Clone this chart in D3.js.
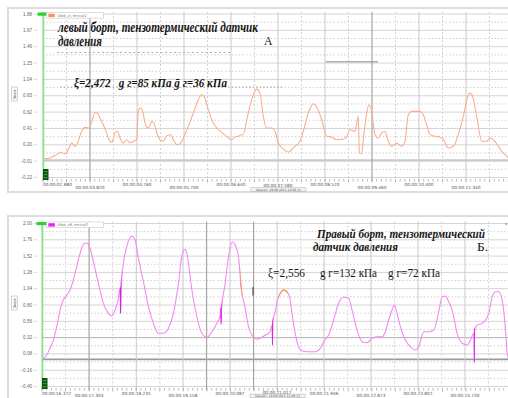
<!DOCTYPE html>
<html>
<head>
<meta charset="utf-8">
<script src="https://cdn.jsdelivr.net/npm/d3@7"></script>
<style>
  body { margin: 0; background: #fff; }
  svg { display: block; }
</style>
</head>
<body>
<svg id="chart" width="508" height="398"></svg>
<script>
// ---------- Left side (А): pressure sensor record ----------
const leftTimes = [2.880, 3.020, 3.154, 3.240, 3.320, 3.386, 3.454, 3.520, 3.566, 3.654, 3.720, 3.806, 3.854, 3.920, 3.966,
  4.020, 4.086, 4.140, 4.186, 4.254, 4.320, 4.366, 4.420, 4.486, 4.554, 4.620, 4.686, 4.754, 4.786, 4.820, 4.874, 4.920, 4.986,
  5.054, 5.100, 5.154, 5.220, 5.286, 5.354, 5.434, 5.486, 5.554, 5.620, 5.686, 5.786, 5.874, 5.986, 6.054, 6.100, 6.166, 6.254,
  6.354, 6.454, 6.554, 6.654, 6.720, 6.786, 6.854, 6.886, 6.954, 7.054, 7.154, 7.220, 7.286, 7.354, 7.454, 7.520, 7.586, 7.686,
  7.786, 7.886, 8.020, 8.086, 8.186, 8.286, 8.354, 8.454, 8.554, 8.654, 8.754, 8.886, 8.954, 9.020, 9.120, 9.186, 9.206, 9.254,
  9.286, 9.354, 9.400, 9.454, 9.520, 9.586, 9.654, 9.720, 9.786, 9.854, 9.954, 10.054, 10.120, 10.186, 10.254, 10.420, 10.486,
  10.554, 10.620, 10.720, 10.820, 10.886, 10.986, 11.086, 11.186, 11.286, 11.386, 11.420, 11.474, 11.554, 11.654, 11.754, 11.820,
  11.920, 11.986, 12.054, 12.154, 12.220];
const leftValues = [0.019, 0.032, 0.074, 0.104, 0.083, 0.138, 0.224, 0.181, 0.215, 0.373, 0.424, 0.416, 0.501, 0.616, 0.608,
  0.544, 0.458, 0.373, 0.288, 0.232, 0.352, 0.373, 0.288, 0.224, 0.266, 0.224, 0.245, 0.266, 0.629, 0.672, 0.629, 0.480, 0.416,
  0.501, 0.480, 0.352, 0.266, 0.245, 0.318, 0.330, 0.266, 0.202, 0.215, 0.288, 0.437, 0.586, 0.778, 0.843, 0.821, 0.693, 0.522,
  0.416, 0.360, 0.309, 0.266, 0.301, 0.309, 0.330, 0.330, 0.522, 0.778, 0.915, 0.864, 0.565, 0.416, 0.416, 0.373, 0.224, 0.147,
  0.104, 0.160, 0.245, 0.373, 0.608, 0.727, 0.685, 0.522, 0.309, 0.301, 0.266, 0.275, 0.301, 0.394, 0.373, 0.565, 0.096, 0.087,
  0.266, 0.608, 0.714, 0.629, 0.330, 0.288, 0.352, 0.373, 0.245, 0.181, 0.224, 0.181, 0.245, 0.586, 0.629, 0.629, 0.586,
  0.458, 0.330, 0.309, 0.301, 0.266, 0.160, 0.181, 0.330, 0.565, 0.843, 0.864, 0.821, 0.565, 0.245, 0.245, 0.288,
  0.245, 0.181, 0.117, 0.052, 0.010];
const leftTicksY = [1.88, 1.67, 1.46, 1.25, 1.04, 0.83, 0.62, 0.41, 0.20, -0.01, -0.22];
const leftTicksX = [2.880, 3.820, 4.760, 5.700, 6.640, 7.580, 8.520, 9.460, 10.400, 11.340];

// ---------- Right side (Б): pressure sensor record ----------
const rightTimes = [16.372, 16.465, 16.530, 16.596, 16.663, 16.728, 16.793, 16.861, 16.926, 16.991, 17.090, 17.157, 17.222,
  17.268, 17.321, 17.387, 17.486, 17.585, 17.683, 17.751, 17.816, 17.881, 17.915, 17.925, 17.935, 17.980, 18.047, 18.146,
  18.212, 18.277, 18.376, 18.475, 18.574, 18.672, 18.771, 18.870, 18.969, 19.068, 19.135, 19.187, 19.234, 19.333, 19.432,
  19.531, 19.630, 19.729, 19.828, 19.893, 19.903, 19.911, 19.919, 19.992, 20.057, 20.136, 20.189, 20.255, 20.302, 20.387,
  20.453, 20.540, 20.619, 20.684, 20.783, 20.882, 20.915, 20.925, 20.935, 20.981, 21.026, 21.080, 21.147, 21.213, 21.264,
  21.311, 21.376, 21.442, 21.509, 21.608, 21.772, 21.871, 21.936, 22.035, 22.134, 22.233, 22.332, 22.431, 22.498, 22.597,
  22.696, 22.795, 22.893, 22.992, 23.091, 23.156, 23.222, 23.289, 23.334, 23.388, 23.453, 23.552, 23.651, 23.750, 23.815,
  23.914, 24.013, 24.112, 24.211, 24.278, 24.343, 24.409, 24.476, 24.575, 24.674, 24.773, 24.838, 24.903, 24.912, 24.921,
  24.971, 25.070, 25.200, 25.267, 25.333, 25.398, 25.465, 25.530, 25.564, 25.630];
const rightValues = [0.000, 0.063, 0.162, 0.284, 0.480, 0.726, 0.873, 0.947, 1.021, 1.168, 1.463, 1.635, 1.708,
  1.708, 1.635, 1.437, 1.119, 0.825, 0.677, 0.638, 0.726, 0.898, 1.050, 0.680, 1.020, 1.414, 1.658, 1.816,
  1.757, 1.487, 1.143, 0.775, 0.530, 0.383, 0.383, 0.457, 0.677, 1.119, 1.511, 1.620, 1.561, 1.021, 0.627,
  0.383, 0.324, 0.406, 0.530, 0.652, 0.756, 0.520, 0.710, 1.119, 1.511, 1.732, 1.683, 1.511, 1.094, 0.751,
  0.480, 0.333, 0.295, 0.309, 0.358, 0.406, 0.505, 0.211, 0.550, 0.701, 0.873, 0.972, 1.021, 0.996, 0.922,
  0.677, 0.383, 0.186, 0.127, 0.112, 0.112, 0.162, 0.259, 0.358, 0.579, 0.825, 0.913, 0.898, 0.726, 0.432,
  0.259, 0.244, 0.309, 0.333, 0.333, 0.406, 0.579, 0.726, 0.800, 0.677, 0.480, 0.284, 0.186, 0.137, 0.186,
  0.406, 0.406, 0.432, 0.701, 0.922, 0.932, 0.848, 0.726, 0.383, 0.236, 0.211, 0.284, 0.383, -0.040, 0.430,
  0.505, 0.530, 0.677, 0.922, 0.996, 0.996, 0.873, 0.432, 0.088, -0.080];
const rightTicksY = [2.00, 1.76, 1.52, 1.28, 1.04, 0.80, 0.56, 0.32, 0.08, -0.16, -0.40];
const rightTicksX = [16.372, 17.303, 18.235, 19.158, 20.087, 21.017, 21.946, 22.873, 23.802, 24.730];

// stretches of the right record drawn in the "selected" colour, and impulse spikes
const rightSelected = [[20.290, 20.325], [21.050, 21.230]];
const rightSpikes = [[17.910, 17.940], [19.898, 19.922], [20.918, 20.938], [24.905, 24.925]];

const svg = d3.select('#chart');
const fmtTime = s => {
  const m = Math.floor(s / 60), sec = s - m * 60;
  return '00:' + String(m).padStart(2, '0') + ':' + sec.toFixed(3).padStart(6, '0');
};

function drawPanel(o) {
  const g = svg.append('g');
  const x = d3.scaleLinear().domain([o.ticksX[0], o.ticksX[9]]).range([o.left, o.left + 423]);
  const y = d3.scaleLinear().domain([o.ticksY[o.ticksY.length - 1], o.ticksY[0]]).range([o.labelBottom, o.labelTop]);
  const right = 530;
  const dT = o.ticksX[1] - o.ticksX[0];
  // gridline times: labelled ticks plus one more step past the visible edge
  const gridT = o.ticksX.concat([o.ticksX[9] + dT]);

  // panel frame
  g.append('rect').attr('x', 8).attr('y', o.frameTop).attr('width', 540).attr('height', o.frameH)
    .attr('fill', '#fff').attr('stroke', '#dddddd').attr('stroke-width', 2);

  // horizontal grid: solid at labelled values, dotted half-way
  const step = o.ticksY[0] - o.ticksY[1];
  o.ticksY.forEach((v, i) => {
    g.append('line').attr('x1', o.left).attr('x2', right).attr('y1', y(v)).attr('y2', y(v))
      .attr('stroke', '#d4d4d4').attr('stroke-width', 1);
    if (i < o.ticksY.length - 1) {
      g.append('line').attr('x1', o.left).attr('x2', right).attr('y1', y(v - step / 2)).attr('y2', y(v - step / 2))
        .attr('stroke', '#cfcfcf').attr('stroke-width', 1).attr('stroke-dasharray', '1.5,2');
    }
  });
  o.extraH.forEach(h => {
    g.append('line').attr('x1', o.left).attr('x2', right).attr('y1', y(h.v)).attr('y2', y(h.v))
      .attr('stroke', h.c).attr('stroke-width', h.w);
  });

  // vertical grid: solid at labelled times, dashed half-way
  gridT.forEach((t, i) => {
    const dark = o.darkMajor.includes(i);
    g.append('line').attr('x1', x(t)).attr('x2', x(t)).attr('y1', o.plotTop).attr('y2', o.plotBottom)
      .attr('stroke', dark ? '#a4a4a4' : '#c8c8c8').attr('stroke-width', dark ? 1.2 : 1);
    const tm = t + dT / 2;
    const dm = o.darkMinor.includes(i);
    g.append('line').attr('x1', x(tm)).attr('x2', x(tm)).attr('y1', o.plotTop).attr('y2', o.plotBottom)
      .attr('stroke', dm ? '#a4a4a4' : '#d2d2d2').attr('stroke-width', dm ? 1.2 : 1)
      .attr('stroke-dasharray', dm ? null : '2,2');
  });

  // minor ticks along the time axis
  const tStep = dT / 10;
  d3.range(0, 110).forEach(i => {
    const t = o.ticksX[0] + i * tStep;
    g.append('line').attr('x1', x(t)).attr('x2', x(t)).attr('y1', o.plotBottom - 2).attr('y2', o.plotBottom + (i % 5 === 0 ? 1.5 : 0.5))
      .attr('stroke', '#9a9a9a').attr('stroke-width', 0.7);
  });

  // value labels
  o.ticksY.forEach(v => {
    g.append('text').attr('x', 32).attr('y', y(v) + 1.5).attr('text-anchor', 'end')
      .attr('font-family', 'Liberation Sans, Arial, sans-serif').attr('font-size', 4.6).attr('fill', '#666')
      .text(o.fmtY(v));
    g.append('line').attr('x1', 34).attr('x2', 37).attr('y1', y(v)).attr('y2', y(v)).attr('stroke', '#bbb').attr('stroke-width', 0.6);
  });

  // time labels, two staggered rows
  o.ticksX.forEach((t, i) => {
    const row = i % 2;
    g.append('text').attr('x', x(t)).attr('y', o.plotBottom + (i === 5 ? o.lift : (row ? o.row2 : 5)))
      .attr('text-anchor', i === 0 ? 'start' : 'middle')
      .attr('font-family', 'DejaVu Sans, sans-serif').attr('font-size', 4.3).attr('fill', '#555')
      .text(fmtTime(t));
  });

  // session box under the time axis
  const sb = g.append('g').attr('transform', `translate(${x(o.ticksX[5]) - 27},${o.plotBottom + o.sessionY})`);
  sb.append('rect').attr('width', 55).attr('height', 3.4).attr('fill', '#f4f4f4').attr('stroke', '#aaa').attr('stroke-width', 0.5);
  sb.append('text').attr('x', 27.5).attr('y', 2.8).attr('text-anchor', 'middle').attr('font-family', 'DejaVu Sans, sans-serif')
    .attr('font-size', 3).attr('fill', '#555').text('Session: 19.09.2011 12:06:11');

  // rotated axis title box
  const at = g.append('g').attr('transform', `translate(14.5,${o.axisTitleY}) rotate(-90)`);
  at.append('rect').attr('x', -7).attr('y', -3).attr('width', 14).attr('height', 6)
    .attr('fill', '#fafafa').attr('stroke', '#bbb').attr('stroke-width', 0.6);
  at.append('text').attr('y', 1.4).attr('text-anchor', 'middle').attr('font-family', 'DejaVu Sans, sans-serif')
    .attr('font-size', 3.8).attr('fill', '#555').text('Знач.');

  // clip to the plot rectangle
  const cid = 'clip' + o.id;
  svg.append('clipPath').attr('id', cid).append('rect')
    .attr('x', o.left).attr('y', o.plotTop - 2).attr('width', 600).attr('height', o.plotBottom - o.plotTop + 4);

  const pts = o.times.map((t, i) => ({ t, v: o.values[i] }));
  const line = d3.line().x(d => x(d.t)).y(d => y(d.v)).curve(d3.curveMonotoneX);
  const plot = g.append('g').attr('clip-path', `url(#${cid})`);
  plot.append('path').attr('d', line(pts)).attr('fill', 'none')
    .attr('stroke', o.color).attr('stroke-width', 1.05).attr('stroke-linejoin', 'round');

  // overlays restricted to time ranges
  const overlay = (ranges, colour, width, tag) => {
    ranges.forEach((r, k) => {
      const id = `${cid}-${tag}${k}`;
      svg.append('clipPath').attr('id', id).append('rect')
        .attr('x', x(r[0])).attr('y', o.plotTop).attr('width', x(r[1]) - x(r[0])).attr('height', o.plotBottom - o.plotTop);
      plot.append('path').attr('d', line(pts)).attr('fill', 'none').attr('clip-path', `url(#${id})`)
        .attr('stroke', colour).attr('stroke-width', width);
    });
  };
  overlay(o.selected, '#f2a24a', 1.3, 's');
  overlay(o.spikes, '#e01ae0', 1.5, 'k');

  // marker line and legend widgets
  g.append('line').attr('x1', o.left + 0.5).attr('x2', o.left + 0.5).attr('y1', o.plotTop).attr('y2', o.plotBottom)
    .attr('stroke', '#7ee67e').attr('stroke-width', 1.5);
  g.append('rect').attr('x', o.left - 5.5).attr('y', o.plotTop + 0.5).attr('width', 11).attr('height', 3.2).attr('fill', '#33cc33');
  const dk = g.append('g').attr('transform', `translate(${o.left},${o.plotBottom - 12})`);
  dk.append('rect').attr('width', 5.5).attr('height', 11).attr('fill', '#0f4f0f');
  [2, 5, 8].forEach(yy => dk.append('rect').attr('x', 1).attr('y', yy).attr('width', 3.5).attr('height', 1.2).attr('fill', '#3a9a3a'));

  const lg = g.append('g').attr('transform', `translate(46.5,${o.plotTop + 0.5})`);
  lg.append('rect').attr('width', 57).attr('height', 5.6).attr('fill', '#fff').attr('stroke', '#c8c8c8').attr('stroke-width', 0.6);
  lg.append('rect').attr('x', 1.8).attr('y', 1.2).attr('width', 6.5).attr('height', 3.4).attr('fill', o.legendColor);
  lg.append('text').attr('x', 11).attr('y', 4.1).attr('font-family', 'DejaVu Sans, sans-serif').attr('font-size', 3.6)
    .attr('fill', '#777').text(o.legendText);

  return { g, x, y };
}

// ---------- upper chart ----------
const A = drawPanel({
  id: 'A', frameTop: 8, frameH: 184, left: 43, plotTop: 12, plotBottom: 181,
  labelTop: 14, labelBottom: 177.5, axisTitleY: 94, row2: 8.3, lift: 5.6, sessionY: 6.8,
  ticksX: leftTicksX, ticksY: leftTicksY, times: leftTimes, values: leftValues,
  fmtY: d3.format('.2f'), color: '#f7ad8a', legendColor: '#f4946a', legendText: 'Ubot_zl. err/cal2',
  extraH: [{ v: 0, c: '#c9c9c9', w: 2 }], darkMajor: [1, 7], darkMinor: [],
  selected: [], spikes: []
});

// cursor traces on the upper chart
A.g.append('line').attr('x1', 57).attr('x2', 231).attr('y1', 52.5).attr('y2', 52.5)
  .attr('stroke', '#9fb4d8').attr('stroke-width', 1).attr('stroke-dasharray', '2,2.5');
A.g.append('line').attr('x1', 60).attr('x2', 283).attr('y1', 87).attr('y2', 87)
  .attr('stroke', '#9a9a9a').attr('stroke-width', 0.8).attr('stroke-dasharray', '1.5,2');
A.g.append('line').attr('x1', 326).attr('x2', 378).attr('y1', 61.8).attr('y2', 61.8)
  .attr('stroke', '#8a8a8a').attr('stroke-width', 1);

const serif = 'Liberation Serif, Times New Roman, serif';
const T = (g, txt, x, y, size, len, bold, italic) => g.append('text').attr('x', x).attr('y', y)
  .attr('font-family', serif).attr('font-size', size)
  .attr('font-weight', bold ? 'bold' : 'normal').attr('font-style', italic ? 'italic' : 'normal')
  .style('white-space', 'pre')
  .attr('fill', '#161616').attr('textLength', len).attr('lengthAdjust', 'spacingAndGlyphs').text(txt);

T(A.g, 'левый борт, тензотермический датчик', 58, 32, 14, 200, true, true);
T(A.g, 'давления', 58, 45.5, 14, 44, true, true);
T(A.g, 'А', 264, 45, 12.5, 8.5, false, false);
T(A.g, 'ξ=2,472   g г=85 кПа ḡ г=36 кПа', 74, 87, 13.5, 153, true, true);

// ---------- lower chart ----------
const B = drawPanel({
  id: 'B', frameTop: 216, frameH: 200, left: 42, plotTop: 221.5, plotBottom: 390,
  labelTop: 223.5, labelBottom: 386.5, axisTitleY: 303, row2: 7.3, lift: 3.6, sessionY: 4.1,
  ticksX: rightTicksX, ticksY: rightTicksY, times: rightTimes, values: rightValues,
  fmtY: v => d3.format('.2f')(v).replace('.', ','), color: '#f384f3', legendColor: '#ee22ee', legendText: 'Ubot_z6. err/cal2',
  extraH: [{ v: 0, c: '#9a9a9a', w: 1.6 }, { v: 0.32, c: '#b8b8b8', w: 1 }], darkMajor: [1], darkMinor: [3, 4],
  selected: rightSelected, spikes: rightSpikes
});

B.g.append('line').attr('x1', 253).attr('x2', 253).attr('y1', 287).attr('y2', 295.5)
  .attr('stroke', '#333').attr('stroke-width', 1);
B.g.append('circle').attr('cx', 506).attr('cy', 224).attr('r', 1).attr('fill', '#f08a30');

T(B.g, 'Правый борт, тензотермический', 317, 237.5, 12.5, 168, true, true);
T(B.g, 'датчик давления', 313, 251, 12.5, 85, true, true);
T(B.g, 'Б.', 477, 251, 12.5, 11, false, false);
T(B.g, 'ξ=2,556', 268, 277, 12.5, 37, false, false);
T(B.g, 'g г=132 кПа', 320, 277, 12.5, 57, false, false);
T(B.g, 'g г=72 кПа', 388, 277, 12.5, 52, false, false);
</script>
</body>
</html>
